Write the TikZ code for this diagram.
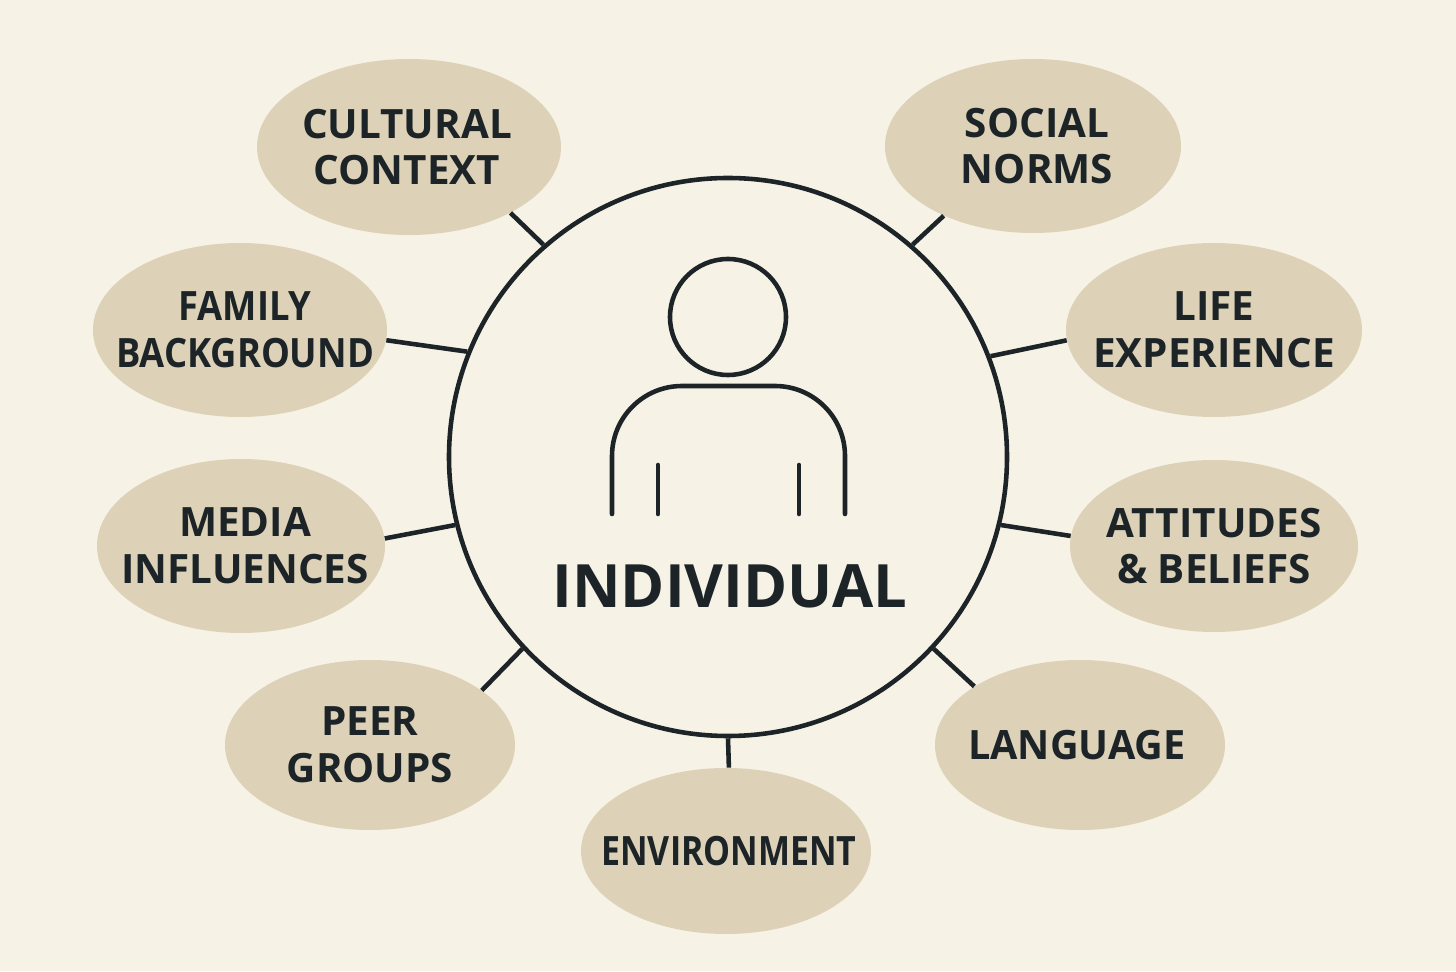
\documentclass[tikz,border=0pt]{standalone}
\usepackage{fontspec}
\setmainfont{Open Sans}
\usepackage{xcolor}
\usetikzlibrary{shapes.geometric}
\definecolor{paper}{HTML}{F7F2E6}
\definecolor{sand}{HTML}{DDD2B8}
\definecolor{ink}{HTML}{1D2427}

\begin{document}
\begin{tikzpicture}[
    font=\fontsize{23}{26.6}\selectfont\bfseries,
    topic/.style={ellipse, fill=sand, inner sep=0pt},
    word/.style={text=ink, align=center, inner sep=0pt, transform shape},
    link/.style={draw=ink, line width=2.6pt},
    figure/.style={draw=ink, line width=2.6pt, line cap=round}
]
    % Background
    \fill[paper] (0,0) rectangle (29.12,19.42);
    \useasboundingbox (0,0) rectangle (29.12,19.42);

    % Centre
    \node[circle, draw=ink, line width=2.6pt, minimum size=11.16cm, inner sep=0pt] (individual) at (14.56,10.28) {};
    \node[font=\fontsize{34}{40}\selectfont\bfseries, text=ink] (name) at (14.6,7.7) {INDIVIDUAL};

    % Person
    \node[circle, figure, minimum size=2.32cm, inner sep=0pt] (head) at (14.56,13.08) {};
    \draw[figure] (12.24,9.14) -- (12.24,10.3) arc[start angle=180, end angle=90, radius=1.4] -- (15.5,11.7) arc[start angle=90, end angle=0, radius=1.4] -- (16.9,9.14);
    \draw[figure] (13.16,9.14) -- (13.16,10.12);
    \draw[figure] (15.98,9.14) -- (15.98,10.12);

    % Topics
    \node[topic, minimum width=6.08cm, minimum height=3.52cm, label={[word, xshift=-0.04cm]center:{CULTURAL\\CONTEXT}}] (cultural) at (8.18,16.48) {};
    \node[topic, minimum width=5.92cm, minimum height=3.48cm, label={[word, xshift=0.08cm]center:{SOCIAL\\NORMS}}] (social) at (20.66,16.5) {};
    \node[topic, minimum width=5.88cm, minimum height=3.48cm, label={[word, xshift=0.1cm, xscale=0.9]center:{FAMILY\\BACKGROUND}}] (family) at (4.8,12.82) {};
    \node[topic, minimum width=5.92cm, minimum height=3.48cm, label={[word]center:{LIFE\\EXPERIENCE}}] (life) at (24.28,12.82) {};
    \node[topic, minimum width=5.76cm, minimum height=3.48cm, label={[word, xshift=0.08cm]center:{MEDIA\\INFLUENCES}}] (media) at (4.82,8.5) {};
    \node[topic, minimum width=5.76cm, minimum height=3.44cm, label={[word]center:{ATTITUDES\\\&~BELIEFS}}] (attitudes) at (24.28,8.5) {};
    \node[topic, minimum width=5.8cm, minimum height=3.4cm, label={[word]center:{PEER\\GROUPS}}] (peer) at (7.4,4.52) {};
    \node[topic, minimum width=5.8cm, minimum height=3.4cm, label={[word, xshift=-0.06cm, xscale=0.98]center:{LANGUAGE}}] (language) at (21.6,4.52) {};
    \node[topic, minimum width=5.8cm, minimum height=3.32cm, label={[word, xshift=0.06cm, xscale=0.84]center:{ENVIRONMENT}}] (environment) at (14.52,2.4) {};

    % Connectors
    \draw[link] (individual.131.5) -- (cultural.-33);
    \draw[link] (individual.49.5) -- (social.218.5);
    \draw[link] (individual.158) -- (family.-4.2);
    \draw[link] (individual.21.1) -- (life.184.5);
    \draw[link] (individual.194.5) -- (media.3.6);
    \draw[link] (individual.-14.5) -- (attitudes.176.4);
    \draw[link] (individual.223.5) -- (peer.26.8);
    \draw[link] (individual.-43) -- (language.151.5);
    \draw[link] (individual.-90) -- (environment.88.6);
\end{tikzpicture}
\end{document}
